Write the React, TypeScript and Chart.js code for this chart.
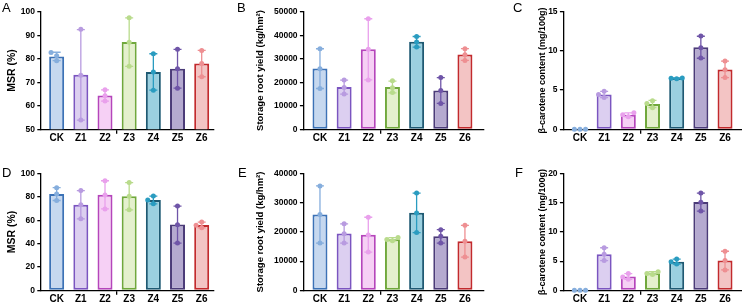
import React, { useEffect, useRef } from 'react';
import { Chart, registerables } from 'chart.js';

Chart.register(...registerables);

const FONT = "'Liberation Sans', Arial, Helvetica, sans-serif";

const categories = ['CK', 'Z1', 'Z2', 'Z3', 'Z4', 'Z5', 'Z6'];

// Replicate values (3 per group)
const msrA = [
  [82.6, 81.3, 79.1],
  [92.5, 73.0, 54.0],
  [66.8, 64.3, 62.0],
  [97.4, 87.0, 76.8],
  [82.1, 74.4, 66.6],
  [84.0, 75.7, 67.5],
  [83.5, 78.0, 72.3],
];
const yieldB = [
  [34300, 25700, 17400],
  [21000, 17800, 15000],
  [47000, 34000, 21000],
  [20600, 17700, 15600],
  [39500, 37100, 35000],
  [22000, 16500, 11000],
  [34300, 31700, 29300],
];
const caroteneC = [
  [0, 0, 0],
  [4.85, 4.45, 4.05],
  [2.1, 1.85, 1.6],
  [3.65, 3.3, 2.75],
  [6.55, 6.5, 6.45],
  [11.9, 10.4, 9.1],
  [8.7, 7.6, 6.6],
];
const msrD = [
  [88.0, 82.5, 77.0],
  [85.5, 73.3, 61.3],
  [94.0, 81.8, 69.8],
  [92.4, 80.6, 69.1],
  [80.8, 77.4, 74.2],
  [72.3, 56.3, 40.5],
  [58.5, 55.7, 53.6],
];
const yieldE = [
  [35800, 26000, 16200],
  [22800, 19400, 16200],
  [25100, 19000, 13100],
  [18100, 17400, 17000],
  [33400, 26500, 19800],
  [20800, 18500, 16200],
  [22300, 16800, 11400],
];
const caroteneF = [
  [0, 0, 0],
  [7.3, 6.2, 5.1],
  [2.9, 2.3, 1.9],
  [3.2, 2.9, 2.7],
  [5.35, 4.9, 4.5],
  [16.7, 15.1, 13.6],
  [6.7, 5.1, 3.5],
];

// Tick labels
const ticksMSR_A = [50, 60, 70, 80, 90, 100];
const ticksYield_B = [0, 10000, 20000, 30000, 40000, 50000];
const ticksCarotene_C = [0, 5, 10, 15];
const ticksMSR_D = [0, 20, 40, 60, 80, 100];
const ticksYield_E = [0, 10000, 20000, 30000, 40000];
const ticksCarotene_F = [0, 5, 10, 15, 20];

// Colours per group
const fillColors = ['#c6d8ef', '#dccff0', '#f6d0f5', '#e4f0cd', '#9bd0e0', '#b5aad0', '#f3c4c4'];
const borderColors = ['#3c72b6', '#7b55c0', '#b545bb', '#70a83c', '#1e5a73', '#4b3b78', '#c22a2d'];
const pointColors = ['#86aedd', '#b89be0', '#e9a0ec', '#b9db8c', '#2a9cc0', '#6f55a8', '#ee8f92'];

const mean = (a: number[]) => a.reduce((s, v) => s + v, 0) / a.length;
const sd = (a: number[]) => {
  const m = mean(a);
  return Math.sqrt(a.reduce((s, v) => s + (v - m) * (v - m), 0) / (a.length - 1));
};

type PanelCfg = {
  data: number[][];
  yTicks: number[];
  yTitle: string;
  titleSize: number;
  titleX: number;
  left: number;
  top: number;
  width: number;
  height: number;
  axisLeft: number;
  axisRight: number;
  plotTop: number;
  plotBottom: number;
  xMin: number;
  xMax: number;
};

const errorPointsPlugin = (reps: number[][]) => ({
  id: 'errorPoints',
  afterDraw(chart: any) {
    const ctx = chart.ctx;
    const xs = chart.scales.x;
    const ys = chart.scales.y;
    const r = 2.5;
    const step = 5.6;
    const minDist = 4.6;
    reps.forEach((vals, i) => {
      const m = mean(vals);
      const s = sd(vals);
      const cx = xs.getPixelForValue(i);
      ctx.save();
      ctx.strokeStyle = pointColors[i];
      ctx.lineWidth = 1.3;
      if (s > 0) {
        const yt = ys.getPixelForValue(m + s);
        const yb = ys.getPixelForValue(m - s);
        ctx.beginPath();
        ctx.moveTo(cx, yt);
        ctx.lineTo(cx, yb);
        ctx.moveTo(cx - 4, yt);
        ctx.lineTo(cx + 4, yt);
        ctx.moveTo(cx - 4, yb);
        ctx.lineTo(cx + 4, yb);
        ctx.stroke();
      }
      const sorted = [...vals].sort((a, b) => a - b);
      const placed: { x: number; y: number }[] = [];
      const offsets = [0, -step, step, -2 * step, 2 * step];
      sorted.forEach((v) => {
        const py = ys.getPixelForValue(v);
        let px = cx;
        for (const o of offsets) {
          const tx = cx + o;
          const ok = placed.every((p) => Math.hypot(p.x - tx, p.y - py) >= minDist);
          if (ok) {
            px = tx;
            break;
          }
        }
        placed.push({ x: px, y: py });
      });
      ctx.fillStyle = pointColors[i];
      placed.forEach((p) => {
        ctx.beginPath();
        ctx.arc(p.x, p.y, r, 0, Math.PI * 2);
        ctx.fill();
      });
      ctx.restore();
    });
  },
});

function Panel({ cfg }: { cfg: PanelCfg }) {
  const ref = useRef<HTMLCanvasElement>(null);
  useEffect(() => {
    const means = cfg.data.map(mean);
    const titleLH = cfg.titleSize * 1.2;
    const chart = new Chart(ref.current as HTMLCanvasElement, {
      type: 'bar',
      data: {
        datasets: [
          {
            data: means.map((m, i) => ({ x: i, y: m })),
            backgroundColor: fillColors,
            borderColor: borderColors,
            borderWidth: 2,
            borderSkipped: false,
            barPercentage: 0.62,
            categoryPercentage: 1,
          } as any,
        ],
      },
      options: {
        animation: false,
        responsive: false,
        maintainAspectRatio: false,
        events: [],
        layout: {
          padding: { left: 0, right: cfg.width - cfg.axisRight, top: cfg.plotTop, bottom: 0 },
        },
        plugins: { legend: { display: false }, tooltip: { enabled: false } },
        scales: {
          x: {
            type: 'linear',
            min: cfg.xMin,
            max: cfg.xMax,
            offset: false,
            z: 1,
            afterFit: (s: any) => {
              s.height = cfg.height - cfg.plotBottom;
            },
            afterBuildTicks: (s: any) => {
              s.ticks = categories.map((_, i) => ({ value: i }));
            },
            ticks: {
              callback: (v: any) => categories[Math.round(Number(v))] ?? '',
              font: { family: FONT, size: 10, weight: 'bold' },
              color: '#000',
              padding: -1.5,
              maxRotation: 0,
              autoSkip: false,
            },
            grid: {
              display: true,
              drawOnChartArea: false,
              drawTicks: true,
              tickLength: 4.5,
              lineWidth: 1.3,
              color: (c: any) => (c.tick && c.tick.value === 3 ? '#000' : 'rgba(0,0,0,0)'),
            },
            border: { display: true, color: '#000', width: 1.3 },
          } as any,
          y: {
            type: 'linear',
            min: cfg.yTicks[0],
            max: cfg.yTicks[cfg.yTicks.length - 1],
            z: 1,
            afterFit: (s: any) => {
              s.width = cfg.axisLeft;
            },
            afterBuildTicks: (s: any) => {
              s.ticks = cfg.yTicks.map((v) => ({ value: v }));
            },
            ticks: {
              callback: (v: any) => String(v),
              font: { family: FONT, size: 8.5, weight: 'bold' },
              color: '#000',
              padding: 2.3,
            },
            grid: {
              display: true,
              drawOnChartArea: false,
              drawTicks: true,
              tickLength: 3.4,
              lineWidth: 1.3,
              color: '#000',
            },
            border: { display: true, color: '#000', width: 1.3 },
            title: {
              display: true,
              text: cfg.yTitle,
              color: '#000',
              font: { family: FONT, size: cfg.titleSize, weight: 'bold', lineHeight: 1.2 },
              padding: { top: cfg.titleX - titleLH / 2, bottom: 0 },
            },
          } as any,
        },
      },
      plugins: [errorPointsPlugin(cfg.data)],
    });
    return () => chart.destroy();
  }, []);
  return (
    <canvas
      ref={ref}
      width={cfg.width}
      height={cfg.height}
      style={{ position: 'absolute', left: cfg.left, top: cfg.top, width: cfg.width, height: cfg.height }}
    />
  );
}

const row1 = { top: 0, height: 153, plotTop: 11.7, plotBottom: 129.3 };
const row2 = { top: 153, height: 153, plotTop: 20.7, plotBottom: 137.3 };
const colA = { left: 0, width: 240, axisLeft: 40.7, axisRight: 213.3, xMin: -0.66, xMax: 6.48 };
const colB = { left: 240, width: 260, axisLeft: 63.3, axisRight: 243.3, xMin: -0.69, xMax: 6.76 };
const colC = { left: 500, width: 242, axisLeft: 63.3, axisRight: 241.7, xMin: -0.69, xMax: 6.69 };

const panels: PanelCfg[] = [
  { ...row1, ...colA, data: msrA, yTicks: ticksMSR_A, yTitle: 'MSR (%)', titleSize: 10.5, titleX: 12 },
  { ...row1, ...colB, data: yieldB, yTicks: ticksYield_B, yTitle: 'Storage root yield (kg/hm²)', titleSize: 9.5, titleX: 20 },
  { ...row1, ...colC, data: caroteneC, yTicks: ticksCarotene_C, yTitle: 'β-carotene content (mg/100g)', titleSize: 9, titleX: 43 },
  { ...row2, ...colA, data: msrD, yTicks: ticksMSR_D, yTitle: 'MSR (%)', titleSize: 10.5, titleX: 12 },
  { ...row2, ...colB, data: yieldE, yTicks: ticksYield_E, yTitle: 'Storage root yield (kg/hm²)', titleSize: 9.5, titleX: 20 },
  { ...row2, ...colC, data: caroteneF, yTicks: ticksCarotene_F, yTitle: 'β-carotene content (mg/100g)', titleSize: 9, titleX: 43 },
];

const letters = [
  { t: 'A', x: 2, y: 1 },
  { t: 'B', x: 237, y: 1 },
  { t: 'C', x: 513, y: 1 },
  { t: 'D', x: 2, y: 166 },
  { t: 'E', x: 238, y: 166 },
  { t: 'F', x: 515, y: 166 },
];

export default function App() {
  return (
    <div style={{ position: 'absolute', left: 0, top: 0, width: 742, height: 306, background: '#fff', overflow: 'hidden' }}>
      {panels.map((p, i) => (
        <Panel key={i} cfg={p} />
      ))}
      {letters.map((l) => (
        <div
          key={l.t}
          style={{
            position: 'absolute',
            left: l.x,
            top: l.y,
            fontFamily: FONT,
            fontSize: 13,
            lineHeight: '13px',
            color: '#000',
          }}
        >
          {l.t}
        </div>
      ))}
    </div>
  );
}
